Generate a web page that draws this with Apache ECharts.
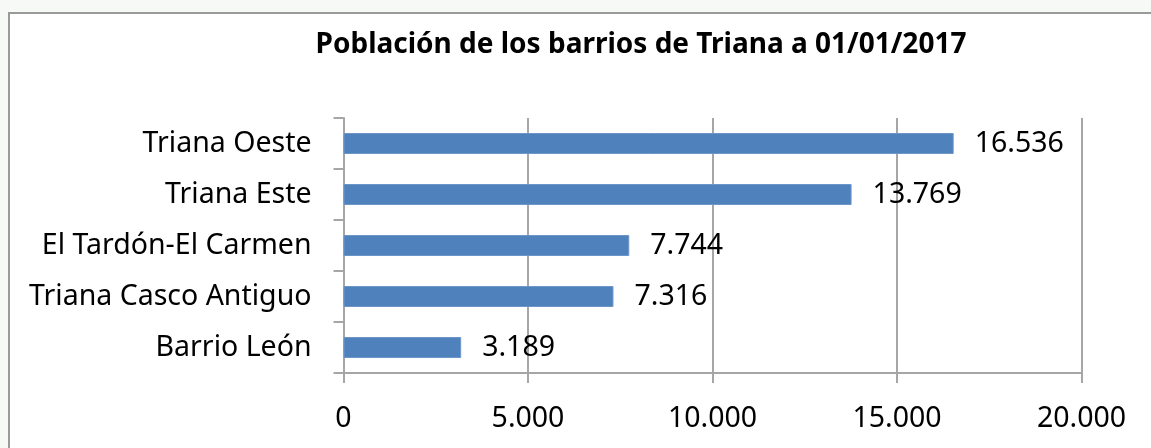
<!DOCTYPE html>
<html>
<head>
<meta charset="utf-8">
<script src="https://cdn.jsdelivr.net/npm/echarts@6/dist/echarts.min.js"></script>
<style>
  html, body { margin: 0; padding: 0; background: #f7f9f7; overflow: hidden; width: 100%; height: 100%; }
  #frame {
    position: fixed; left: 8px; top: 12px; right: -20px; bottom: -20px;
    background: #fff; border-left: 2px solid #9a9a9a; border-top: 2px solid #9a9a9a;
  }
  #chart { position: fixed; left: 0; top: 0; width: 1151px; height: 448px; }
</style>
</head>
<body>
<div id="frame"></div>
<div id="chart"></div>
<script>
// barrios, de arriba a abajo
const barrios = ['Triana Oeste', 'Triana Este', 'El Tardón-El Carmen', 'Triana Casco Antiguo', 'Barrio León']
const poblacion = [16536, 13769, 7744, 7316, 3189]
const titulo = 'Población de los barrios de Triana a 01/01/2017'

const fmt = function (v) {
  return String(v).replace(/\B(?=(\d{3})+(?!\d))/g, '.')
}
const fuente = 'Noto Sans'
const gris = '#a6a6a6'

let myChart = echarts.init(document.getElementById('chart'))
myChart.setOption({
  animation: false,
  backgroundColor: 'transparent',
  title: {
    text: titulo,
    left: 636,
    top: 26,
    textAlign: 'center',
    textStyle: { fontFamily: fuente, fontWeight: 'bold', fontSize: 28, color: '#000' },
  },
  grid: {
    left: 343.5,
    right: 69.5,
    top: 118,
    bottom: 75,
  },
  xAxis: {
    type: 'value',
    min: 0,
    max: 20000,
    interval: 5000,
    axisLine: { show: true, lineStyle: { color: gris, width: 2 } },
    axisTick: { show: true, length: 10, lineStyle: { color: gris, width: 2 } },
    splitLine: { show: true, lineStyle: { color: gris, width: 2 } },
    axisLabel: {
      fontFamily: fuente,
      fontSize: 28.5,
      color: '#000',
      margin: 31,
      formatter: fmt,
    },
  },
  yAxis: {
    type: 'category',
    inverse: true,
    data: barrios,
    axisLine: { show: true, lineStyle: { color: gris, width: 2 } },
    axisTick: { show: true, length: 10, lineStyle: { color: gris, width: 2 } },
    axisLabel: {
      fontFamily: fuente,
      fontSize: 28.5,
      color: '#000',
      margin: 32,
    },
  },
  series: [
    {
      type: 'bar',
      data: poblacion,
      barWidth: 21,
      itemStyle: { color: '#4f81bd', borderColor: '#6d96c8', borderWidth: 1 },
      label: {
        show: true,
        position: 'right',
        distance: 21,
        fontFamily: fuente,
        fontSize: 28.5,
        color: '#000',
        formatter: function (p) {
          return fmt(p.value)
        },
      },
    },
  ],
})
</script>
</body>
</html>
